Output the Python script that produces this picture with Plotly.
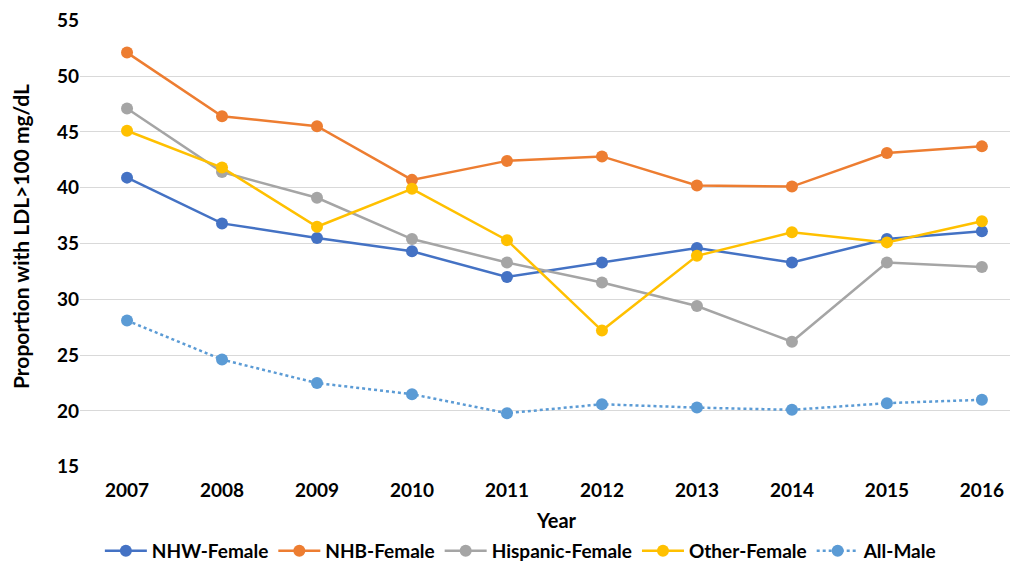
import plotly.graph_objects as go

years = [2007, 2008, 2009, 2010, 2011, 2012, 2013, 2014, 2015, 2016]
nhw_female = [40.9, 36.8, 35.5, 34.3, 32.0, 33.3, 34.6, 33.3, 35.4, 36.1]
nhb_female = [52.1, 46.4, 45.5, 40.7, 42.4, 42.8, 40.2, 40.1, 43.1, 43.7]
hispanic_female = [47.1, 41.4, 39.1, 35.4, 33.3, 31.5, 29.4, 26.2, 33.3, 32.9]
other_female = [45.1, 41.8, 36.5, 39.9, 35.3, 27.2, 33.9, 36.0, 35.1, 37.0]
all_male = [28.1, 24.6, 22.5, 21.5, 19.8, 20.6, 20.3, 20.1, 20.7, 21.0]
y_ticks = [15, 20, 25, 30, 35, 40, 45, 50, 55]

series = [
    ("NHW-Female", nhw_female, "#4472C4", "solid"),
    ("NHB-Female", nhb_female, "#ED7D31", "solid"),
    ("Hispanic-Female", hispanic_female, "#A5A5A5", "solid"),
    ("Other-Female", other_female, "#FFC000", "solid"),
    ("All-Male", all_male, "#5B9BD5", "dot"),
]

FONT = "Lato"

fig = go.Figure()
for name, vals, color, dash in series:
    fig.add_trace(go.Scatter(
        x=years, y=vals, name=name, mode="lines+markers",
        line=dict(color=color, width=2.5, dash=dash),
        marker=dict(color=color, size=12),
    ))

# page body has an 8px margin; figure is taller than the window so the
# legend near the bottom fits without pushing margins
H_PLOT = 447
fig.update_layout(
    width=1010, height=600,
    margin=dict(l=72, r=0, t=12, b=600 - 12 - H_PLOT),
    paper_bgcolor="white", plot_bgcolor="white",
    font=dict(family=FONT, size=19, color="#000000"),
    showlegend=True,
    legend=dict(orientation="h", x=0.470, xanchor="center", y=-(532 - 467) / H_PLOT, yanchor="top",
                font=dict(family=FONT, size=19, color="#000000", weight="bold"),
                itemwidth=42, tracegroupgap=0),
    xaxis=dict(
        range=[2006.505, 2016.38], tickmode="array", tickvals=years,
        ticktext=[str(y) for y in years], automargin=False,
        showgrid=False, zeroline=False, showline=False, ticks="",
        ticklabelstandoff=10, ticklabeloverflow="allow",
        tickfont=dict(family=FONT, size=19, weight="bold"),
    ),
    yaxis=dict(
        range=[14.98, 55.02], tickmode="array", tickvals=y_ticks,
        showgrid=True, gridcolor="#D9D9D9", gridwidth=1,
        zeroline=False, showline=False, ticks="", automargin=False,
        ticklabeloverflow="allow",
        tickfont=dict(family=FONT, size=19, weight="bold"),
    ),
    annotations=[
        dict(text="Year", xref="paper", yref="paper", x=(556 - 80) / 938, y=-(520 - 467) / H_PLOT,
             xanchor="center", yanchor="middle", showarrow=False,
             font=dict(family=FONT, size=20, weight="bold", color="#000000")),
        dict(text="Proportion with LDL>100 mg/dL", xref="paper", yref="paper",
             x=(20 - 80) / 938, y=(467 - 237) / H_PLOT, textangle=-90,
             xanchor="center", yanchor="middle", showarrow=False,
             font=dict(family=FONT, size=21, weight="bold", color="#000000")),
    ],
)

fig.write_html("out.html")
